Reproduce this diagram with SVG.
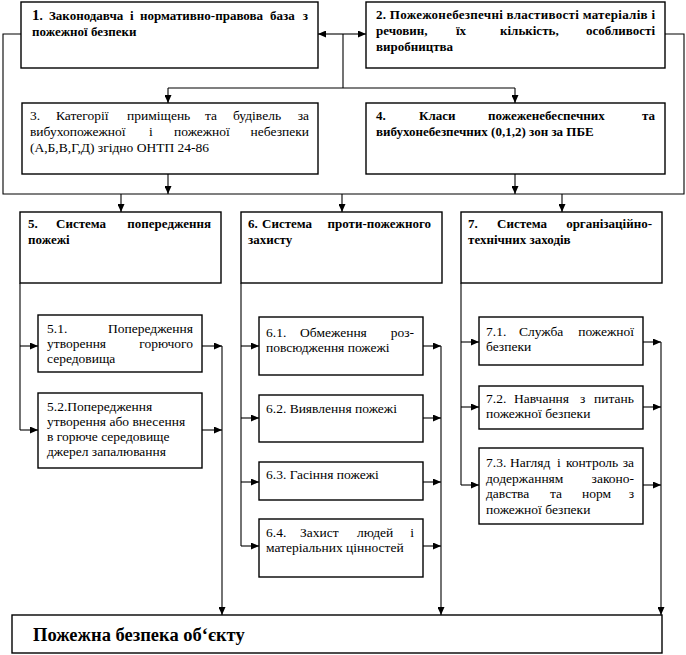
<svg xmlns="http://www.w3.org/2000/svg" width="686" height="655" viewBox="0 0 686 655">
<style>
rect{fill:#fff;stroke:#000;stroke-width:1.4}
.c path{fill:none;stroke:#000;stroke-width:1.1}
text{font-family:"Liberation Serif","Times New Roman",serif;fill:#000}
.b{font-weight:bold;font-size:13px}
.r{font-size:13.5px}
.e{text-anchor:end}
</style>
<defs>
<marker id="a" viewBox="0 0 8 7" refX="8" refY="3.5" markerWidth="8" markerHeight="7" orient="auto" markerUnits="userSpaceOnUse"><path d="M0,0 L8,3.5 L0,7 z" fill="#000"/></marker>
</defs>
<rect x="0" y="0" width="686" height="655" style="stroke:none"/>
<g class="c">
<path d="M21,34 H3 V194 H684 V34 H665"/>
<path d="M343,34 V88 M168,88 H515"/>
<path d="M343,34 H318" marker-end="url(#a)"/>
<path d="M343,34 H366" marker-end="url(#a)"/>
<path d="M168,88 V103" marker-end="url(#a)"/>
<path d="M515,88 V103" marker-end="url(#a)"/>
<path d="M168,174 V194" marker-end="url(#a)"/>
<path d="M515,174 V194" marker-end="url(#a)"/>
<path d="M121,194 V212" marker-end="url(#a)"/>
<path d="M342,194 V212" marker-end="url(#a)"/>
<path d="M562,194 V212" marker-end="url(#a)"/>
<path d="M20,283 V430"/>
<path d="M20,346 H38" marker-end="url(#a)"/>
<path d="M20,430 H38" marker-end="url(#a)"/>
<path d="M202,346 H222" marker-end="url(#a)"/>
<path d="M202,430 H222" marker-end="url(#a)"/>
<path d="M222,346 V615" marker-end="url(#a)"/>
<path d="M241,283 V546"/>
<path d="M241,346 H259" marker-end="url(#a)"/>
<path d="M241,418 H259" marker-end="url(#a)"/>
<path d="M241,482 H259" marker-end="url(#a)"/>
<path d="M241,546 H259" marker-end="url(#a)"/>
<path d="M423,346 H441" marker-end="url(#a)"/>
<path d="M423,418 H441" marker-end="url(#a)"/>
<path d="M423,482 H441" marker-end="url(#a)"/>
<path d="M423,546 H441" marker-end="url(#a)"/>
<path d="M441,346 V615" marker-end="url(#a)"/>
<path d="M461,283 V485"/>
<path d="M461,342 H479" marker-end="url(#a)"/>
<path d="M461,407 H479" marker-end="url(#a)"/>
<path d="M461,485 H479" marker-end="url(#a)"/>
<path d="M643,342 H661" marker-end="url(#a)"/>
<path d="M643,407 H661" marker-end="url(#a)"/>
<path d="M643,485 H661" marker-end="url(#a)"/>
<path d="M661,342 V615" marker-end="url(#a)"/>
</g>
<g id="n1">
<rect x="21" y="2" width="297" height="66"/>
<text class="b" y="20"><tspan x="32" font-size="15">1</tspan><tspan>.</tspan><tspan x="49">Законодавча</tspan><tspan x="130">і</tspan><tspan x="140">нормативно-правова</tspan><tspan x="270">база</tspan></text>
<text class="b e" x="308" y="20">з</text>
<text class="b" x="32" y="36">пожежної безпеки</text>
</g>
<g id="n2">
<rect x="366" y="2" width="299" height="66"/>
<text class="b" x="376" y="19" textLength="279" lengthAdjust="spacing">2. Пожежонебезпечні властивості матеріалів і</text>
<text class="b" y="35"><tspan x="376">речовин,</tspan><tspan x="456">їх</tspan><tspan x="500">кількість,</tspan></text>
<text class="b e" x="655" y="35">особливості</text>
<text class="b" x="376" y="51">виробництва</text>
</g>
<g id="n3">
<rect x="22" y="103" width="296" height="71"/>
<text class="r" y="120"><tspan x="30">3.</tspan><tspan x="56">Категорії</tspan><tspan x="127">приміщень</tspan><tspan x="205">та</tspan><tspan x="233">будівель</tspan></text>
<text class="r e" x="309" y="120">за</text>
<text class="r" y="136"><tspan x="30">вибухопожежної</tspan><tspan x="149">і</tspan><tspan x="174">пожежної</tspan></text>
<text class="r e" x="309" y="136">небезпеки</text>
<text class="r" x="30" y="152">(А,Б,В,Г,Д) згідно ОНТП 24-86</text>
</g>
<g id="n4">
<rect x="366" y="103" width="299" height="71"/>
<text class="b" y="120"><tspan x="376">4.</tspan><tspan x="419">Класи</tspan><tspan x="488">пожеженебеспечних</tspan></text>
<text class="b e" x="655" y="120">та</text>
<text class="b" x="376" y="136">вибухонебезпечних (0,1,2) зон за ПБЕ</text>
</g>
<g id="n5">
<rect x="20" y="212" width="201" height="71"/>
<text class="b" y="228"><tspan x="28">5.</tspan><tspan x="56">Система</tspan></text>
<text class="b e" x="211" y="228">попередження</text>
<text class="b" x="28" y="244">пожежі</text>
</g>
<g id="n6">
<rect x="241" y="212" width="201" height="71"/>
<text class="b" y="228"><tspan x="248">6.</tspan><tspan x="262">Система</tspan></text>
<text class="b e" x="431" y="228">проти-пожежного</text>
<text class="b" x="248" y="244">захисту</text>
</g>
<g id="n7">
<rect x="461" y="212" width="201" height="71"/>
<text class="b" y="228"><tspan x="468">7.</tspan><tspan x="497">Система</tspan></text>
<text class="b e" x="652" y="228">організаційно-</text>
<text class="b" x="468" y="244">технічних заходів</text>
</g>
<g id="n51">
<rect x="38" y="315" width="164" height="57"/>
<text class="r" x="47" y="333">5.1.</text>
<text class="r e" x="193" y="333">Попередження</text>
<text class="r" x="47" y="348">утворення</text>
<text class="r e" x="193" y="348">горючого</text>
<text class="r" x="47" y="363">середовища</text>
</g>
<g id="n52">
<rect x="38" y="393" width="164" height="75"/>
<text class="r" x="47" y="411">5.2.Попередження</text>
<text class="r" x="47" y="426">утворення або внесення</text>
<text class="r" x="47" y="441">в горюче середовище</text>
<text class="r" x="47" y="456">джерел запалювання</text>
</g>
<g id="n61">
<rect x="259" y="317" width="164" height="58"/>
<text class="r" y="337"><tspan x="266">6.1.</tspan><tspan x="300">Обмеження</tspan></text>
<text class="r e" x="414" y="337">роз-</text>
<text class="r" x="266" y="352">повсюдження пожежі</text>
</g>
<g id="n62">
<rect x="259" y="395" width="164" height="47"/>
<text class="r" x="266" y="413">6.2. Виявлення пожежі</text>
</g>
<g id="n63">
<rect x="259" y="462" width="164" height="38"/>
<text class="r" x="266" y="479">6.3. Гасіння пожежі</text>
</g>
<g id="n64">
<rect x="259" y="519" width="164" height="58"/>
<text class="r" y="537"><tspan x="266">6.4.</tspan><tspan x="300">Захист</tspan><tspan x="357">людей</tspan></text>
<text class="r e" x="414" y="537">і</text>
<text class="r" x="266" y="552">матеріальних цінностей</text>
</g>
<g id="n71">
<rect x="479" y="317" width="164" height="48"/>
<text class="r" y="336"><tspan x="486">7.1.</tspan><tspan x="519">Служба</tspan></text>
<text class="r e" x="634" y="336">пожежної</text>
<text class="r" x="486" y="351">безпеки</text>
</g>
<g id="n72">
<rect x="479" y="386" width="164" height="43"/>
<text class="r" y="403"><tspan x="486">7.2.</tspan><tspan x="514">Навчання</tspan><tspan x="580">з</tspan></text>
<text class="r e" x="634" y="403">питань</text>
<text class="r" x="486" y="418">пожежної безпеки</text>
</g>
<g id="n73">
<rect x="479" y="448" width="164" height="76"/>
<text class="r" y="467"><tspan x="486">7.3.</tspan><tspan x="510">Нагляд</tspan><tspan x="557">і</tspan><tspan x="566">контроль</tspan></text>
<text class="r e" x="634" y="467">за</text>
<text class="r" x="486" y="483">додержанням</text>
<text class="r e" x="634" y="483">законо-</text>
<text class="r" y="498"><tspan x="486">давства</tspan><tspan x="550">та</tspan><tspan x="582">норм</tspan></text>
<text class="r e" x="634" y="498">з</text>
<text class="r" x="486" y="514">пожежної безпеки</text>
</g>
<g id="n8">
<rect x="12" y="615" width="650" height="38"/>
<text x="33" y="641" font-weight="bold" font-size="18.5">Пожежна безпека об‘єкту</text>
</g>
</svg>
